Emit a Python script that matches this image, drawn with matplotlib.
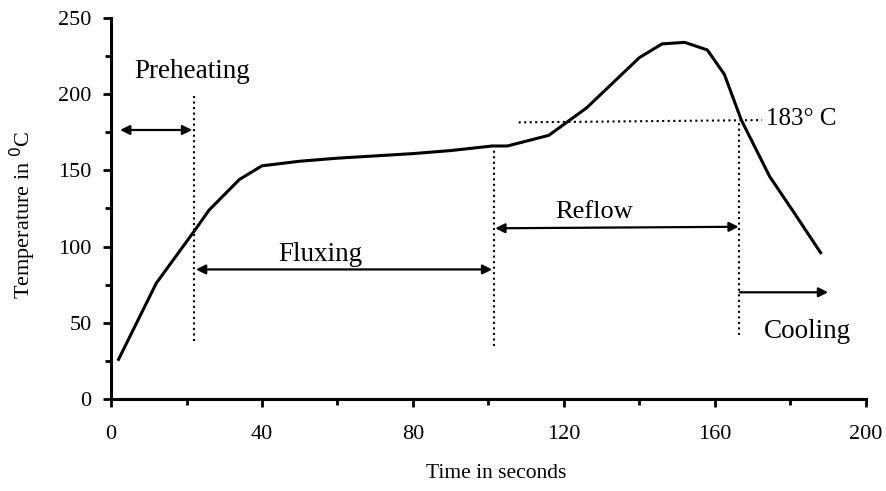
import matplotlib.pyplot as plt
from matplotlib.ticker import MultipleLocator

plt.rcParams['font.family'] = ['Liberation Serif', 'DejaVu Serif']

# reflow profile
time_s = [2, 12, 22, 26, 34, 40, 50, 60, 80, 90, 101, 105, 116, 126, 140, 146, 152, 158, 162.5, 167, 174.5, 180.5, 188]
temp_c = [26, 76, 110, 124, 144, 153, 156, 158, 161, 163, 166, 166, 173, 191, 224, 233, 234, 229, 213, 183, 146, 124, 96]

# zone boundaries and levels
zone_x = [22, 101.5, 166.5]
zone_ytop = [200, 165, 181]
zone_ybot = [38, 35, 42]
liquidus = 183

fig = plt.figure(figsize=(8.86, 4.91), dpi=100)
ax = fig.add_axes([0.1253, 0.1874, 0.852, 0.776])

ax.plot(time_s, temp_c, color='black', lw=2.2, solid_joinstyle='round')

for x, yt, yb in zip(zone_x, zone_ytop, zone_ybot):
    ax.plot([x, x], [yb, yt], color='black', ls=':', lw=1.5)
ax.plot([108, 172.5], [liquidus - 1.5, liquidus], color='black', ls=':', lw=1.5)
ax.text(173.6, liquidus + 1, '183° C', fontsize=18, va='center', ha='left')

arrow = dict(arrowstyle='<|-|>', color='black', lw=1.6, mutation_scale=14, shrinkA=0, shrinkB=0)
one_way = dict(arrowstyle='-|>', color='black', lw=1.6, mutation_scale=14, shrinkA=0, shrinkB=0)
ax.annotate('', xy=(21.5, 176.5), xytext=(2.4, 176.5), arrowprops=arrow)
ax.annotate('', xy=(101, 85), xytext=(22.5, 85), arrowprops=arrow)
ax.annotate('', xy=(166.3, 113), xytext=(101.8, 112), arrowprops=arrow)
ax.annotate('', xy=(190, 70), xytext=(166.6, 70), arrowprops=one_way)

ax.text(6.2, 215, 'Preheating', fontsize=19.5, ha='left', va='center')
ax.text(55.5, 95, 'Fluxing', fontsize=19.5, ha='center', va='center')
ax.text(128, 122.5, 'Reflow', fontsize=19, ha='center', va='center')
ax.text(184.5, 44, 'Cooling', fontsize=19.5, ha='center', va='center')

ax.set_xlim(0, 200)
ax.set_ylim(0, 250)
ax.xaxis.set_major_locator(MultipleLocator(40))
ax.xaxis.set_minor_locator(MultipleLocator(20))
ax.yaxis.set_major_locator(MultipleLocator(50))
ax.yaxis.set_minor_locator(MultipleLocator(25))
ax.tick_params(which='both', direction='out', width=2, labelsize=16)
ax.tick_params(which='major', length=6)
ax.tick_params(which='minor', length=4)
ax.tick_params(axis='x', pad=13)
ax.tick_params(axis='y', pad=8)
for side in ['top', 'right']:
    ax.spines[side].set_visible(False)
for side in ['left', 'bottom']:
    ax.spines[side].set_linewidth(2.2)

ax.set_xlabel('Time in seconds', fontsize=15.5, va='center')
ax.set_ylabel('Temperature in $^{\\mathrm{0}}$C', fontsize=16, va='center')
ax.xaxis.set_label_coords(0.51, -0.195)
ax.yaxis.set_label_coords(-0.117, 0.483)

plt.savefig('out.png', dpi=100)
